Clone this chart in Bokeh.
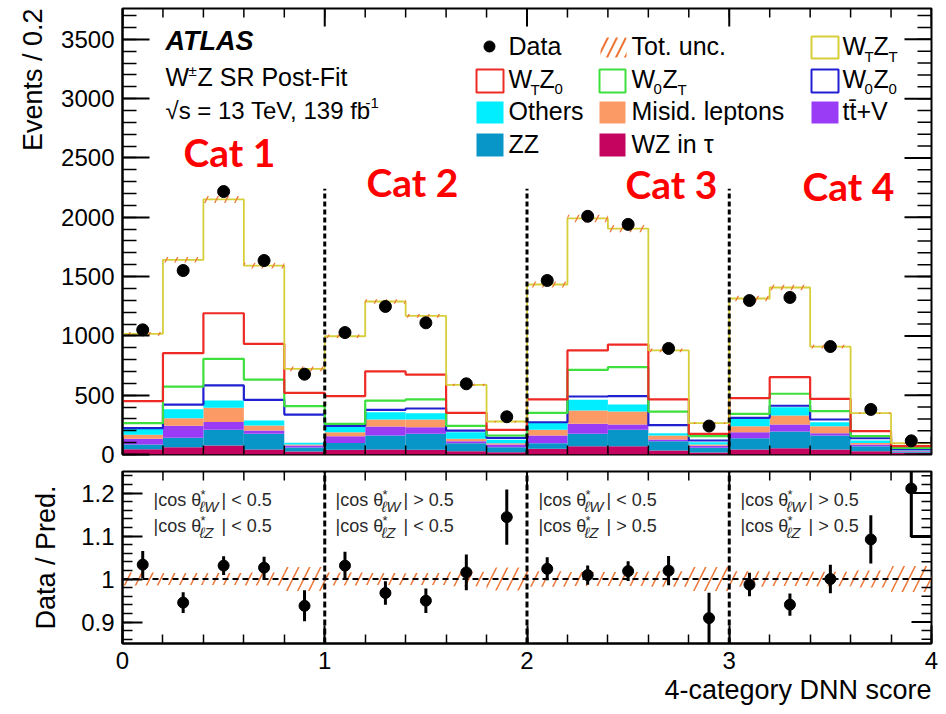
import numpy as np
from bokeh.plotting import figure
from bokeh.models import (Range1d, LinearAxis, SingleIntervalTicker, FixedTicker,
                          Label, Title, CustomJSTickFormatter)
from bokeh.layouts import column
from bokeh.embed import file_html
from bokeh.resources import INLINE

# ---------------- data ----------------
bin_lo = [0.0, 0.2, 0.4, 0.6, 0.8, 1.0, 1.2, 1.4, 1.6, 1.8,
          2.0, 2.2, 2.4, 2.6, 2.8, 3.0, 3.2, 3.4, 3.6, 3.8]
bin_hi = [0.2, 0.4, 0.6, 0.8, 1.0, 1.2, 1.4, 1.6, 1.8, 2.0,
          2.2, 2.4, 2.6, 2.8, 3.0, 3.2, 3.4, 3.6, 3.8, 4.0]
cat_edges = [1.0, 2.0, 3.0]

data = [1051, 1551, 2217, 1635, 677, 1028, 1248, 1110, 596, 318,
        1467, 2008, 1940, 894, 240, 1298, 1324, 910, 380, 115]

# filled backgrounds (bottom -> top)
wz_tau = [44, 62, 76, 42, 25, 39, 42, 39, 28, 20, 48, 70, 70, 34, 17, 42, 53, 42, 28, 14]
zz     = [40, 79, 132, 132, 35, 59, 118, 135, 67, 42, 47, 104, 138, 78, 39, 95, 141, 118, 42, 8]
ttv    = [48, 101, 67, 28, 15, 56, 76, 56, 17, 22, 65, 85, 45, 14, 17, 51, 59, 20, 14, 6]
misid  = [34, 64, 119, 42, 10, 34, 59, 65, 20, 11, 48, 112, 109, 34, 11, 51, 76, 59, 14, 6]
others = [49, 76, 61, 43, 15, 48, 62, 53, 56, 29, 57, 90, 59, 20, 20, 62, 70, 33, 20, 5]
# unfilled signal templates stacked on top
w0z0 = [7, 39, 127, 174, 237, 6, 20, 40, 14, 17, 7, 28, 71, 67, 14, 8, 12, 23, 19, 6]
w0zt = [42, 152, 225, 171, 70, 17, 78, 76, 40, 19, 79, 225, 244, 115, 37, 34, 101, 70, 18, 11]
wtz0 = [186, 281, 384, 301, 113, 233, 245, 210, 109, 48, 113, 163, 191, 102, 19, 132, 140, 104, 42, 14]
wtzt = [567, 787, 959, 660, 202, 505, 590, 495, 236, 70, 969, 1113, 978, 413, 90, 840, 756, 441, 151, 25]

# relative total uncertainty per bin
tot_unc = [0.015, 0.014, 0.014, 0.015, 0.028, 0.015, 0.014, 0.014, 0.017, 0.027,
           0.018, 0.016, 0.016, 0.018, 0.028, 0.018, 0.016, 0.017, 0.020, 0.030]

# axis ticks
up_y_major = [0, 500, 1000, 1500, 2000, 2500, 3000, 3500]
up_y_minor = [v for v in range(0, 3760, 100)]
x_major = [0, 1, 2, 3, 4]
ratio_major = [0.9, 1.0, 1.1, 1.2]
ratio_minor = [round(0.86 + 0.02 * i, 2) for i in range(20)]

# ---------------- styling ----------------
FONT = "Liberation Sans"
ORANGE = "#ee7433"
C_TAU, C_ZZ, C_TTV, C_MIS, C_OTH = "#c4045e", "#0896c8", "#9a3cf5", "#fc9a66", "#00eeff"
C_00, C_0T, C_T0, C_TT = "#2020d0", "#3de03d", "#ee2a24", "#d6cf3a"

lo = np.array(bin_lo)
hi = np.array(bin_hi)
ctr = (lo + hi) / 2
d = np.array(data, dtype=float)

layers = [wz_tau, zz, ttv, misid, others]
fill_cols = [C_TAU, C_ZZ, C_TTV, C_MIS, C_OTH]
lines = [w0z0, w0zt, wtz0, wtzt]
line_cols = [C_00, C_0T, C_T0, C_TT]

cum = np.zeros(len(data))
fill_stack = []
for arr in layers:
    b = cum.copy()
    cum = cum + np.array(arr, dtype=float)
    fill_stack.append((b, cum.copy()))
line_stack = []
for arr in lines:
    cum = cum + np.array(arr, dtype=float)
    line_stack.append(cum.copy())
total = cum.copy()
unc = np.array(tot_unc)
ratio = d / total
rerr = np.sqrt(d) / total

X_PX = 809 / 4.0            # px per x unit
UP_Y0, UP_Y1, UP_H = 0, 3760, 446
R_Y0, R_Y1, R_H = 0.85, 1.25, 172


# page pixel -> data helpers (for annotations only)
def ux(px):
    return (px - 122) / X_PX


def uy(py):
    return (454 - py) * UP_Y1 / UP_H


def ly(py):
    return 1 + (579.3 - py) / 430


def inner_ticks(fig, xs_maj, xs_min, ys_maj, ys_min, y0, y1, yh, xmaj, xmin, ymaj, ymin):
    """ROOT-style inward ticks on the top and right sides (no labels)."""
    ypu = (y1 - y0) / yh
    for vals, ln, w in [(ys_maj, ymaj, 2), (ys_min, ymin, 1.5)]:
        fig.segment(x0=[4.0] * len(vals), y0=vals, x1=[4.0 - ln / X_PX] * len(vals), y1=vals,
                    line_color="black", line_width=w)
    for vals, ln, w in [(xs_maj, xmaj, 2), (xs_min, xmin, 1.5)]:
        fig.segment(x0=vals, y0=[y1] * len(vals), x1=vals, y1=[y1 - ln * ypu] * len(vals),
                    line_color="black", line_width=w)


def real_axis(fig, loc, ticker, mj, mn, fmt=None):
    ax = LinearAxis(ticker=ticker)
    ax.major_tick_in = mj
    ax.major_tick_out = 0
    ax.minor_tick_in = mn
    ax.minor_tick_out = 0
    ax.major_tick_line_width = 2
    ax.minor_tick_line_width = 1.5
    ax.axis_line_width = 2
    ax.major_label_text_font = FONT
    ax.major_label_text_font_size = "24px"
    ax.major_label_text_color = "black"
    ax.major_label_standoff = 8
    if fmt is not None:
        ax.formatter = fmt
    fig.add_layout(ax, loc)


def lab(fig, conv, px, py, text, size, color="black", font=FONT, style="normal", align="left"):
    """Text whose baseline sits at page pixel (px, py); placed via its vertical middle."""
    k = 0.39 if font == "Lato" else 0.34
    fig.add_layout(Label(x=ux(px), y=conv(py - k * size), text=text, text_font=font,
                         text_font_size=f"{size}px", text_color=color, text_font_style=style,
                         text_align=align, text_baseline="middle"))


def title(fig, text, loc, align, standoff=0):
    fig.add_layout(Title(text=text, align=align, text_font=FONT, text_font_size="27px",
                         text_font_style="normal", text_color="black", standoff=standoff), loc)


# ---------------- upper panel ----------------
p1 = figure(width=938, height=469, x_range=Range1d(0, 4), y_range=Range1d(UP_Y0, UP_Y1),
            output_backend="svg", toolbar_location=None, x_axis_type=None, y_axis_type=None,
            min_border_left=122, min_border_right=7, min_border_top=8, min_border_bottom=15)
p1.grid.visible = False
p1.outline_line_color = "black"
p1.outline_line_width = 2

for (b, t), col in zip(fill_stack, fill_cols):
    p1.quad(left=lo, right=hi, bottom=b, top=t, fill_color=col, line_color=None)

for vals, col in zip(line_stack, line_cols):
    xs = list(lo) + [hi[-1]]
    ys = list(vals) + [vals[-1]]
    p1.step(x=xs, y=ys, mode="after", line_color=col, line_width=2.2 if col != C_TT else 1.8)

# total uncertainty band
p1.quad(left=lo, right=hi, bottom=total * (1 - unc), top=total * (1 + unc),
        fill_color=None, line_color=None, hatch_pattern="/", hatch_color=ORANGE,
        hatch_scale=20, hatch_weight=1.3)

# category separators
p1.segment(x0=cat_edges, y0=[0] * 3, x1=cat_edges, y1=[2240] * 3,
           line_color="black", line_width=3, line_dash="5 3")

# data
p1.segment(x0=ctr, y0=d - np.sqrt(d), x1=ctr, y1=d + np.sqrt(d), line_color="black", line_width=2.5)
p1.scatter(x=ctr, y=d, size=12, fill_color="black", line_color="black")

real_axis(p1, "left", FixedTicker(ticks=up_y_major, minor_ticks=up_y_minor), 27, 14)
inner_ticks(p1, x_major, list(lo) + [4.0], up_y_major, up_y_minor, UP_Y0, UP_Y1, UP_H, 18, 9, 27, 14)
# bottom ticks of the upper pad (no labels)
ypu1 = UP_Y1 / UP_H
p1.segment(x0=x_major, y0=[0] * 5, x1=x_major, y1=[18 * ypu1] * 5, line_color="black", line_width=2)
p1.segment(x0=lo, y0=[0] * 20, x1=lo, y1=[9 * ypu1] * 20, line_color="black", line_width=1.5)
title(p1, "Events / 0.2", "left", "right", standoff=22)

# legend
box_c = [(476, 503), (599, 625), (811, 838)]
box_r = [(36, 58), (69, 92), (101, 123), (133, 156)]
outline_items = [(2, 0, C_TT), (0, 1, C_T0), (1, 1, C_0T), (2, 1, C_00)]
filled_items = [(0, 2, C_OTH), (1, 2, C_MIS), (2, 2, C_TTV), (0, 3, C_ZZ), (1, 3, C_TAU)]
p1.quad(left=[ux(box_c[c][0]) for c, r, _ in outline_items],
        right=[ux(box_c[c][1]) for c, r, _ in outline_items],
        top=[uy(box_r[r][0]) for c, r, _ in outline_items],
        bottom=[uy(box_r[r][1]) for c, r, _ in outline_items],
        fill_color=None, line_color=[k for _, _, k in outline_items], line_width=2)
p1.quad(left=[ux(box_c[c][0]) for c, r, _ in filled_items],
        right=[ux(box_c[c][1]) for c, r, _ in filled_items],
        top=[uy(box_r[r][0]) for c, r, _ in filled_items],
        bottom=[uy(box_r[r][1]) for c, r, _ in filled_items],
        fill_color=[k for _, _, k in filled_items], line_color=None)
p1.quad(left=[ux(600)], right=[ux(626)], top=[uy(37)], bottom=[uy(57)], fill_color=None,
        line_color=None, hatch_pattern="/", hatch_color=ORANGE, hatch_scale=18, hatch_weight=2)
p1.scatter(x=[ux(489)], y=[uy(46)], size=11, fill_color="black", line_color="black")

row_b = [54, 87, 119, 152]
txt_x = [508, 631, 842]
LS = 25
lab(p1, uy, txt_x[0], row_b[0], "Data", LS)
lab(p1, uy, txt_x[1], row_b[0], "Tot. unc.", LS)
lab(p1, uy, txt_x[0], row_b[2], "Others", LS)
lab(p1, uy, txt_x[1], row_b[2], "Misid. leptons", LS)
lab(p1, uy, txt_x[2], row_b[2], "tt\u0304+V", LS)
lab(p1, uy, txt_x[0], row_b[3], "ZZ", LS)
lab(p1, uy, txt_x[1], row_b[3], "WZ in \u03c4", LS)


def wz_label(fig, px, py, s1, s2):
    lab(fig, uy, px, py, "W", LS)
    lab(fig, uy, px + 22, py + 7, s1, 15)
    lab(fig, uy, px + 31, py, "Z", LS)
    lab(fig, uy, px + 46, py + 7, s2, 15)


wz_label(p1, txt_x[2], row_b[0], "T", "T")
wz_label(p1, txt_x[0], row_b[1], "T", "0")
wz_label(p1, txt_x[1], row_b[1], "0", "T")
wz_label(p1, txt_x[2], row_b[1], "0", "0")

# ATLAS block
lab(p1, uy, 165, 50, "ATLAS", 27, style="bold italic")
lab(p1, uy, 165, 85, "W", 25)
lab(p1, uy, 188, 75, "\u00b1", 15)
lab(p1, uy, 197, 85, "Z SR Post-Fit", 25)
lab(p1, uy, 165, 118, "\u221as = 13 TeV, 139 fb", 24)
lab(p1, uy, 365, 108, "-1", 15)

# category tags
for px, py, t in [(183, 167, "Cat 1"), (366, 197, "Cat 2"), (625, 199, "Cat 3"), (802, 201, "Cat 4")]:
    lab(p1, uy, px, py, t, 39, color="#ff0000", font="Lato", style="bold")

# ---------------- ratio panel ----------------
p2 = figure(width=938, height=239, x_range=p1.x_range, y_range=Range1d(R_Y0, R_Y1),
            output_backend="svg", toolbar_location=None, x_axis_type=None, y_axis_type=None,
            min_border_left=122, min_border_right=7, min_border_top=2, min_border_bottom=65)
p2.grid.visible = False
p2.outline_line_color = "black"
p2.outline_line_width = 2

p2.quad(left=lo, right=hi, bottom=1 - unc, top=1 + unc, fill_color=None, line_color=None,
        hatch_pattern="/", hatch_color=ORANGE, hatch_scale=22, hatch_weight=1.5)
p2.segment(x0=[0], y0=[1], x1=[4], y1=[1], line_color="black", line_width=2, line_dash="6 4")
p2.segment(x0=cat_edges, y0=[R_Y0] * 3, x1=cat_edges, y1=[R_Y1] * 3,
           line_color="black", line_width=3, line_dash="6 3")
p2.segment(x0=ctr, y0=ratio - rerr, x1=ctr, y1=ratio + rerr, line_color="black", line_width=3)
p2.scatter(x=ctr, y=ratio, size=11, fill_color="black", line_color="black")
# bracket at the last bin
p2.quad(left=[ctr[-1]], right=[hi[-1]], bottom=[ratio[-1] - rerr[-1]], top=[1.2],
        fill_color=None, line_color="black", line_width=2)

yfmt = CustomJSTickFormatter(code="return (Math.round(tick*10)/10).toString();")
real_axis(p2, "left", FixedTicker(ticks=ratio_major, minor_ticks=ratio_minor), 20, 10, fmt=yfmt)
real_axis(p2, "below", SingleIntervalTicker(interval=1, num_minor_ticks=5), 18, 9)
inner_ticks(p2, x_major, list(lo) + [4.0], ratio_major, ratio_minor, R_Y0, R_Y1, R_H, 18, 9, 20, 10)
title(p2, "Data / Pred.", "left", "center", standoff=36)
title(p2, "4-category DNN score", "below", "right", standoff=2)

conds = [("<", "<"), (">", "<"), ("<", ">"), (">", ">")]
TC = "#2a2a2a"
for x0, (cw, cz) in zip([153, 335, 538, 740], conds):
    for py, sub, c in [(506.7, "\u2113W", cw), (532.7, "\u2113Z", cz)]:
        lab(p2, ly, x0, py, "|cos \u03b8", 18, color=TC)
        lab(p2, ly, x0 + 47, py - 7, "*", 13, color=TC)
        lab(p2, ly, x0 + 46, py + 5, sub, 15, color=TC, style="italic")
        lab(p2, ly, x0 + 68, py, f"| {c} 0.5", 18, color=TC)

layout = column(p1, p2)
open("out.html", "w").write(file_html(layout, INLINE))
